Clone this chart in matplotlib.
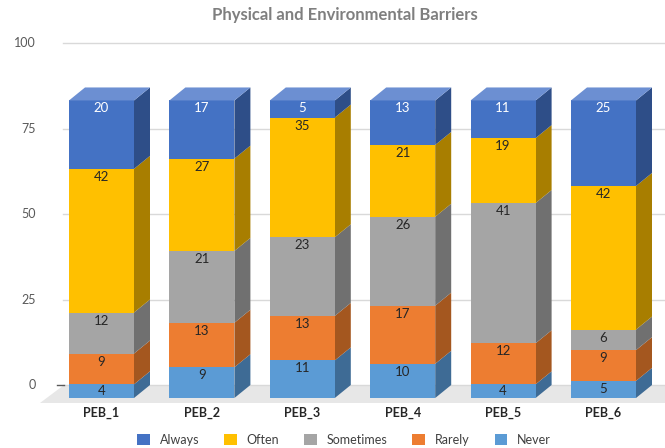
import matplotlib
matplotlib.use("Agg")
import matplotlib.pyplot as plt
from matplotlib.patches import Polygon, Patch

categories = ["PEB_1", "PEB_2", "PEB_3", "PEB_4", "PEB_5", "PEB_6"]
series_names = ["Never", "Rarely", "Sometimes", "Often", "Always"]
never = [4, 9, 11, 10, 4, 5]
rarely = [9, 13, 13, 17, 12, 9]
sometimes = [12, 21, 23, 26, 41, 6]
often = [42, 27, 35, 21, 19, 42]
always = [20, 17, 5, 13, 11, 25]
y_ticks = [0, 25, 50, 75, 100]

series = [never, rarely, sometimes, often, always]
front_cols = ["#5B9BD5", "#ED7D31", "#A5A5A5", "#FFC000", "#4472C4"]
side_cols = ["#3E6B95", "#A4571F", "#707070", "#A87E00", "#2E4E88"]
top_col = "#6C8FD2"
label_cols = ["#262626", "#262626", "#262626", "#262626", "#FFFFFF"]

plt.rcParams['font.family'] = ['Lato', 'DejaVu Sans']

W, H = 665, 448
fig = plt.figure(figsize=(W / 100, H / 100), dpi=100)
ax = fig.add_axes([0, 0, 1, 1])
ax.axis('off')

px_x = 100.4          # pixels per category
px_y = 3.42           # pixels per value unit
x0_px = 117.5         # back center of first bar
y0_px = 385           # value 0
ax.set_xlim(-x0_px / px_x, (W - x0_px) / px_x)
ax.set_ylim((y0_px - H) / px_y, y0_px / px_y)

bw = 65 / px_x
dx = -16 / px_x
dy = -13 / px_y

def X(p):
    return (p - x0_px) / px_x

# floor
floor = Polygon([(X(64), 0), (X(W), 0), (X(W), -18 / px_y), (X(40), -18 / px_y)],
                closed=True, facecolor="#E7E7E7", edgecolor="none", zorder=0)
ax.add_patch(floor)

# gridlines and y tick labels
for t in y_ticks:
    ax.plot([X(63), X(W)], [t, t], color="#D9D9D9", lw=1, zorder=1)
    ax.text(X(36), t, str(t), ha="right", va="center",
            fontsize=9, color="#595959")
ax.plot([X(57), X(64)], [0, 0], color="#595959", lw=1, zorder=1)

for i in range(len(categories)):
    bottom = 0
    for s, vals in enumerate(series):
        v = vals[i]
        top = bottom + v
        xl = i - bw / 2 + dx
        xr = i + bw / 2 + dx
        ax.add_patch(Polygon([(xl, bottom + dy), (xr, bottom + dy), (xr, top + dy), (xl, top + dy)],
                             closed=True, facecolor=front_cols[s], edgecolor="none", zorder=3))
        ax.add_patch(Polygon([(xr, bottom + dy), (i + bw / 2, bottom), (i + bw / 2, top), (xr, top + dy)],
                             closed=True, facecolor=side_cols[s], edgecolor="none", zorder=2))
        off = min(8 / px_y, v / 2)
        ax.text(i + dx, top + dy - off, str(v), ha="center", va="center",
                fontsize=9.5, color=label_cols[s], zorder=5)
        bottom = top
    xl = i - bw / 2 + dx
    xr = i + bw / 2 + dx
    ax.add_patch(Polygon([(xl, bottom + dy), (xr, bottom + dy), (i + bw / 2, bottom), (i - bw / 2, bottom)],
                         closed=True, facecolor=top_col, edgecolor="none", zorder=3))
    ax.text(i + dx, (y0_px - 413) / px_y, categories[i], ha="center", va="center",
            fontsize=9, fontweight="bold", color="#262626")

fig.text(345 / W, 1 - 15 / H, "Physical and Environmental Barriers", ha="center", va="center",
         fontsize=12, fontweight="bold", color="#7F7F7F")

handles = [Patch(facecolor=front_cols[s], edgecolor="none", label=series_names[s])
           for s in [4, 3, 2, 1, 0]]
fig.legend(handles=handles, loc="center", bbox_to_anchor=(344 / W, 1 - 440 / H), ncol=5,
           frameon=False, fontsize=9, handlelength=1.0, handleheight=1.0,
           columnspacing=2.0, handletextpad=0.8, labelcolor="#404040")

fig.savefig("out.png", dpi=100)
